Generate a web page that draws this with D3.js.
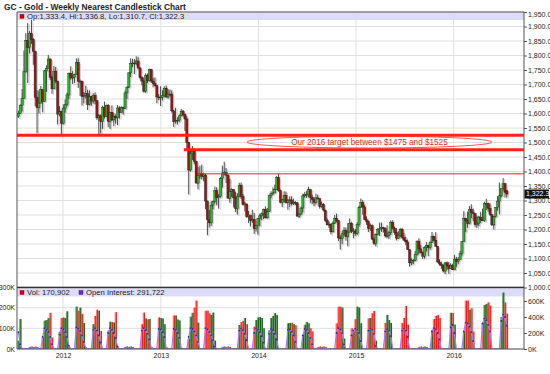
<!DOCTYPE html>
<html>
<head>
<meta charset="utf-8">
<script src="https://cdn.jsdelivr.net/npm/d3@7"></script>
<style>
  body { margin: 0; background: #fff; }
  svg text { font-family: "Liberation Sans", Arial, sans-serif; }
</style>
</head>
<body>
<div id="chart"></div>
<script>
const title = 'GC - Gold - Weekly Nearest Candlestick Chart';
const firstWeek = new Date(2011, 6, 18);   // weekly bars, Monday of each week

// [open, high, low, close] per week
const gold2011 = [
  [1590,1610,1585,1601],[1601,1632,1598,1628],[1628,1684,1607,1651],[1651,1817,1650,1744],
  [1744,1877,1740,1852],[1852,1912,1705,1828],[1828,1884,1807,1876],[1876,1923,1840,1856],
  [1856,1860,1768,1814],[1814,1816,1625,1656],[1656,1680,1532,1620],[1620,1680,1600,1636],
  [1636,1695,1635,1683],[1683,1683,1604,1642],[1642,1750,1640,1747],[1747,1766,1675,1756],
  [1756,1802,1756,1788],[1788,1790,1715,1724],[1724,1731,1668,1685],[1685,1764,1685,1746],
  [1746,1761,1705,1712],[1712,1712,1562,1598],[1598,1625,1590,1606],[1606,1610,1523,1566]
];
const gold2012 = [
  [1566,1631,1562,1617],[1617,1648,1603,1631],[1631,1672,1625,1664],[1664,1741,1650,1739],
  [1739,1763,1716,1725],[1725,1746,1702,1725],[1725,1737,1705,1735],[1735,1790,1733,1776],
  [1776,1792,1688,1711],[1711,1717,1660,1711],[1711,1714,1627,1659],[1659,1674,1635,1662],
  [1662,1696,1652,1669],[1669,1682,1612,1631],[1631,1680,1628,1659],[1659,1661,1627,1643],
  [1643,1670,1634,1663],[1663,1673,1632,1645],[1645,1646,1578,1585],[1585,1598,1527,1592],
  [1592,1597,1532,1573],[1573,1627,1547,1622],[1622,1641,1583,1590],[1590,1630,1588,1628],
  [1628,1633,1553,1573],[1573,1606,1547,1604],[1604,1628,1574,1578],[1578,1602,1556,1590],
  [1590,1597,1565,1585],[1585,1629,1560,1619],[1619,1625,1583,1604],[1604,1625,1603,1621],
  [1621,1624,1596,1617],[1617,1679,1615,1671],[1671,1693,1650,1691],[1691,1742,1688,1740],
  [1740,1790,1726,1772],[1772,1789,1760,1774],[1774,1788,1736,1772],[1772,1797,1766,1781],
  [1781,1796,1752,1757],[1757,1760,1718,1724],[1724,1728,1697,1712],[1712,1724,1672,1677],
  [1677,1739,1672,1731],[1731,1738,1705,1714],[1714,1755,1710,1752],[1752,1754,1705,1712],
  [1712,1723,1690,1704],[1704,1725,1694,1696],[1696,1698,1635,1657],[1657,1667,1646,1656],
  [1656,1694,1626,1656]
];
const gold2013 = [
  [1656,1680,1645,1662],[1662,1694,1656,1687],[1687,1697,1654,1657],[1657,1684,1651,1667],
  [1667,1683,1660,1667],[1667,1680,1603,1609],[1609,1613,1554,1572],[1572,1620,1565,1576],
  [1576,1587,1562,1577],[1577,1597,1570,1592],[1592,1616,1590,1608],[1608,1612,1590,1597],
  [1597,1600,1540,1581],[1581,1590,1476,1501],[1501,1501,1321,1405],[1405,1476,1400,1462],
  [1462,1488,1440,1470],[1470,1480,1425,1435],[1435,1437,1359,1360],[1360,1416,1338,1386],
  [1386,1420,1375,1393],[1393,1424,1373,1383],[1383,1396,1366,1388],[1388,1393,1270,1298],
  [1298,1300,1180,1234],[1234,1267,1207,1223],[1223,1297,1212,1284],[1284,1300,1270,1297],
  [1297,1348,1290,1334],[1334,1346,1283,1310],[1310,1322,1272,1314],[1314,1380,1310,1376],
  [1376,1420,1345,1395],[1395,1434,1387,1396],[1396,1412,1360,1387],[1387,1390,1306,1308],
  [1308,1375,1292,1332],[1332,1342,1312,1338],[1338,1339,1276,1309],[1309,1330,1260,1272],
  [1272,1325,1251,1315],[1315,1361,1311,1352],[1352,1362,1304,1314],[1314,1323,1282,1287],
  [1287,1295,1262,1288],[1288,1289,1240,1244],[1244,1264,1222,1250],[1250,1250,1210,1231],
  [1231,1268,1223,1235],[1235,1257,1185,1203],[1203,1216,1193,1213],[1213,1240,1182,1238]
];
const gold2014 = [
  [1238,1255,1211,1247],[1247,1259,1232,1254],[1254,1272,1236,1270],[1270,1280,1239,1240],
  [1240,1274,1238,1262],[1262,1320,1260,1318],[1318,1332,1308,1324],[1324,1345,1318,1326],
  [1326,1355,1326,1339],[1339,1385,1337,1379],[1379,1392,1330,1334],[1334,1338,1290,1294],
  [1294,1305,1277,1302],[1302,1332,1293,1318],[1318,1331,1290,1293],[1293,1305,1268,1300],
  [1300,1315,1277,1302],[1302,1315,1283,1289],[1289,1306,1285,1293],[1293,1298,1284,1292],
  [1292,1294,1245,1246],[1246,1257,1240,1253],[1253,1279,1250,1274],[1274,1324,1259,1316],
  [1316,1330,1310,1320],[1320,1334,1309,1320],[1320,1348,1311,1337],[1337,1339,1291,1310],
  [1310,1320,1287,1303],[1303,1312,1280,1294],[1294,1324,1286,1309],[1309,1320,1303,1306],
  [1306,1307,1272,1280],[1280,1296,1275,1287],[1287,1291,1262,1267],[1267,1268,1226,1231],
  [1231,1238,1215,1216],[1216,1227,1205,1218],[1218,1220,1183,1192],[1192,1228,1190,1222],
  [1222,1250,1219,1239],[1239,1255,1224,1231],[1231,1233,1160,1171],[1171,1180,1131,1169],
  [1169,1196,1150,1185],[1185,1208,1179,1197],[1197,1207,1161,1175],[1175,1222,1142,1191],
  [1191,1238,1190,1222],[1222,1225,1188,1195],[1195,1205,1170,1195],[1195,1202,1178,1186]
];
const gold2015 = [
  [1186,1225,1180,1217],[1217,1282,1210,1277],[1277,1307,1275,1293],[1293,1301,1251,1278],
  [1278,1285,1232,1234],[1234,1245,1216,1227],[1227,1232,1191,1204],[1204,1220,1195,1213],
  [1213,1218,1163,1167],[1167,1173,1147,1152],[1152,1187,1142,1183],[1183,1205,1180,1199],
  [1199,1224,1178,1202],[1202,1224,1192,1207],[1207,1209,1190,1203],[1203,1208,1172,1178],
  [1178,1215,1170,1179],[1179,1194,1168,1189],[1189,1232,1181,1225],[1225,1232,1200,1205],
  [1205,1210,1181,1190],[1190,1205,1162,1170],[1170,1194,1168,1180],[1180,1205,1174,1201],
  [1201,1205,1168,1173],[1173,1188,1162,1163],[1163,1175,1146,1157],[1157,1165,1130,1131],
  [1131,1131,1072,1085],[1085,1101,1077,1094],[1094,1098,1080,1094],[1094,1126,1090,1113],
  [1113,1162,1110,1160],[1160,1170,1115,1133],[1133,1147,1118,1121],[1121,1124,1098,1108],
  [1108,1142,1100,1138],[1138,1157,1124,1145],[1145,1147,1108,1137],[1137,1159,1130,1156],
  [1156,1191,1154,1177],[1177,1178,1160,1163],[1163,1191,1140,1142],[1142,1142,1085,1088],
  [1088,1097,1075,1081],[1081,1089,1064,1076],[1076,1080,1052,1057],[1057,1088,1046,1085],
  [1085,1090,1061,1075],[1075,1088,1047,1066],[1066,1083,1065,1075],[1075,1082,1061,1061]
];
const gold2016 = [
  [1061,1113,1061,1098],[1098,1105,1071,1090],[1090,1105,1080,1097],[1097,1127,1096,1117],
  [1117,1160,1110,1158],[1158,1263,1157,1239],[1239,1240,1191,1231],[1231,1262,1206,1221],
  [1221,1281,1218,1270],[1270,1287,1239,1259],[1259,1272,1228,1255],[1255,1256,1208,1217],
  [1217,1245,1206,1222],[1222,1247,1211,1243],[1243,1261,1223,1235],[1235,1272,1230,1230],
  [1230,1296,1227,1290],[1290,1306,1267,1290],[1290,1292,1261,1273],[1273,1290,1247,1252],
  [1252,1253,1212,1216],[1216,1247,1200,1244],[1244,1277,1241,1276],[1276,1315,1265,1298],
  [1298,1362,1252,1316],[1316,1342,1311,1341],[1341,1377,1334,1358],[1358,1360,1310,1328],
  [1333.4,1336.8,1310.7,1322.3]
];

// weekly volume, thousands (left scale)
const volume = [
  40,145,3,3,3,3,10,12,10,12,10,3,3,55,137,140,150,175,55,3,3,3,84,150,
  152,150,182,10,3,3,3,205,185,200,170,125,8,3,3,3,120,160,190,185,87,3,3,3,89,132,130,128,178,10,3,3,3,10,12,10,12,10,3,3,3,3,120,176,148,143,145,10,3,3,3,153,150,
  148,120,8,3,3,3,162,162,143,138,5,3,3,3,50,156,175,200,234,127,3,3,3,185,185,172,165,176,40,3,3,3,10,12,10,12,10,3,3,3,3,116,130,136,150,120,3,3,3,108,140,152,
  155,150,100,3,3,90,150,160,174,165,3,3,3,3,3,124,126,127,120,115,3,3,3,68,117,131,124,100,85,3,3,10,12,10,12,10,3,3,3,3,3,124,205,205,200,50,3,3,3,100,84,144,
  205,200,124,3,3,3,148,150,173,184,40,3,3,3,3,126,165,140,126,3,3,3,3,3,126,150,208,118,3,3,3,3,3,10,12,10,12,10,3,3,92,145,160,165,150,3,3,3,3,3,175,174,
  118,3,3,3,3,84,234,234,189,197,84,3,3,3,3,125,213,218,225,210,3,3,3,3,3,155,273,225,171
];
// weekly open interest, thousands (right scale)
const openInterest = [
  210,60,5,5,5,5,8,8,8,8,8,5,5,150,260,240,210,150,60,5,5,5,180,260,
  245,210,150,40,5,5,5,270,255,225,170,90,10,5,5,5,240,260,230,170,80,5,5,5,200,260,240,200,140,30,5,5,5,10,10,10,10,10,5,5,5,5,230,260,235,190,120,20,5,5,5,250,245,
  210,150,20,5,5,5,250,240,200,140,15,5,5,5,150,260,250,220,170,90,5,5,5,260,245,215,170,110,30,5,5,5,10,10,10,10,10,5,5,5,5,230,255,235,190,110,5,5,5,200,255,240,
  210,160,80,5,5,190,250,235,190,120,5,5,5,5,5,240,245,215,170,90,5,5,5,170,250,240,200,140,60,5,5,10,10,10,10,10,5,5,5,5,5,200,260,245,200,60,5,5,5,170,230,255,
  240,200,100,5,5,5,230,255,240,190,40,5,5,5,5,220,250,230,160,5,5,5,5,5,230,255,230,150,5,5,5,5,5,10,10,10,10,10,5,5,220,260,245,200,120,5,5,5,5,5,270,300,
  200,5,5,5,5,220,330,320,280,210,100,5,5,5,5,320,380,360,300,220,5,5,5,5,5,350,430,400,292
];

const years = ['2012', '2013', '2014', '2015', '2016'];
const priceTicks = d3.range(1000, 1951, 50);
const volTicks = [0, 100, 200, 300];
const oiTicks = [0, 200, 400, 600];

const legendTop = 'Op:1,333.4, Hi:1,336.8, Lo:1,310.7, Cl:1,322.3';
const legendVol = ['Vol: 170,902', 'Open Interest: 291,722'];
const lastPrice = 1322.3;

// target zone annotation
const targetHi = { price: 1525, from: '2011-07-13' };
const targetLo = { price: 1475, from: '2013-03-28' };
const resistance = { price: 1392, from: '2013-05-20' };
const targetNote = { text: 'Our 2016 target between $1475 and $1525', from: '2013-11-19', to: '2016-05-23', lo: 1481, hi: 1522 };

const bars = [...gold2011, ...gold2012, ...gold2013, ...gold2014, ...gold2015, ...gold2016]
  .map((d, i) => ({ date: d3.timeDay.offset(firstWeek, 7 * i), o: d[0], h: d[1], l: d[2], c: d[3],
    v: volume[i], oi: openInterest[i] }));

const W = 550, H = 374, L = 17, R = 524;
const x = d3.scaleTime().domain([new Date(2011, 6, 13), new Date(2016, 8, 20)]).range([L, R]);
const yP = d3.scaleLinear().domain([1000, 1950]).range([287.5, 12]);
const yV = d3.scaleLinear().domain([0, 300]).range([349, 287]);
const yO = d3.scaleLinear().domain([0, 600]).range([349, 301]);
const pd = s => d3.timeParse('%Y-%m-%d')(s);
const up = d => d.c >= d.o;

const svg = d3.select('#chart').append('svg').attr('width', W).attr('height', H)
  .style('display', 'block').attr('font-size', 7);
svg.append('rect').attr('width', W).attr('height', H).attr('fill', '#fff');
const defs = svg.append('defs');
defs.append('clipPath').attr('id', 'clipP').append('rect').attr('x', L).attr('y', 12).attr('width', R - L).attr('height', 275);
defs.append('clipPath').attr('id', 'clipV').append('rect').attr('x', L).attr('y', 288).attr('width', R - L).attr('height', 61);

svg.append('text').attr('x', 4).attr('y', 9.8).attr('font-weight', 'bold').attr('font-size', 8.4)
  .attr('fill', '#222').text(title);

// grid
const grid = svg.append('g').attr('stroke', '#e0e0e0').attr('stroke-width', 1);
priceTicks.forEach(t => grid.append('line').attr('x1', L).attr('x2', R).attr('y1', yP(t)).attr('y2', yP(t)));
volTicks.forEach(t => grid.append('line').attr('x1', L).attr('x2', R).attr('y1', yV(t)).attr('y2', yV(t)));
years.forEach(yr => {
  const xx = x(new Date(+yr, 0, 1));
  grid.append('line').attr('x1', xx).attr('x2', xx).attr('y1', 12).attr('y2', 349);
});

// legend band (price)
svg.append('rect').attr('x', L).attr('y', 12.5).attr('width', R - L).attr('height', 7.5).attr('fill', '#dcdcfa');
svg.append('rect').attr('x', 20).attr('y', 14.3).attr('width', 4).attr('height', 4).attr('fill', '#e00000').attr('stroke', '#600').attr('stroke-width', .4);
svg.append('text').attr('x', 27).attr('y', 18.8).attr('font-size', 7.7).attr('fill', '#222').text(legendTop);

// candles
const cg = svg.append('g').attr('clip-path', 'url(#clipP)');
const sh = cg.append('g').attr('transform', 'translate(1.5,1.2)');
sh.selectAll('line').data(bars).join('line')
  .attr('x1', d => x(d.date)).attr('x2', d => x(d.date)).attr('y1', d => yP(d.h)).attr('y2', d => yP(d.l))
  .attr('stroke', '#c6c6c6').attr('stroke-width', .9);
sh.selectAll('rect').data(bars).join('rect')
  .attr('x', d => x(d.date) - 1.1).attr('width', 2.2)
  .attr('y', d => yP(Math.max(d.o, d.c))).attr('height', d => Math.max(.8, Math.abs(yP(d.o) - yP(d.c))))
  .attr('fill', '#cdcdcd');
cg.selectAll('line.wk').data(bars).join('line').attr('class', 'wk')
  .attr('x1', d => x(d.date)).attr('x2', d => x(d.date)).attr('y1', d => yP(d.h)).attr('y2', d => yP(d.l))
  .attr('stroke', '#1c1c1c').attr('stroke-width', .8);
cg.selectAll('rect.bd').data(bars).join('rect').attr('class', 'bd')
  .attr('x', d => x(d.date) - 1.1).attr('width', 2.2)
  .attr('y', d => yP(Math.max(d.o, d.c))).attr('height', d => Math.max(.8, Math.abs(yP(d.o) - yP(d.c))))
  .attr('fill', d => up(d) ? '#2db82d' : '#a31212').attr('stroke', '#1c1c1c').attr('stroke-width', .4);

// target lines + note
const ann = svg.append('g').attr('clip-path', 'url(#clipP)');
[[targetHi, 3], [targetLo, 3], [resistance, 1]].forEach(([t, w]) => ann.append('line')
  .attr('x1', x(pd(t.from))).attr('x2', R).attr('y1', yP(t.price)).attr('y2', yP(t.price))
  .attr('stroke', '#ff2215').attr('stroke-width', w));
const ex0 = x(pd(targetNote.from)), ex1 = x(pd(targetNote.to));
const ey0 = yP(targetNote.hi), ey1 = yP(targetNote.lo);
ann.append('ellipse').attr('cx', (ex0 + ex1) / 2).attr('cy', (ey0 + ey1) / 2)
  .attr('rx', (ex1 - ex0) / 2).attr('ry', (ey1 - ey0) / 2)
  .attr('fill', 'none').attr('stroke', '#ff2a20').attr('stroke-width', .8);
ann.append('text').attr('x', (ex0 + ex1) / 2).attr('y', (ey0 + ey1) / 2).attr('dy', '0.35em')
  .attr('text-anchor', 'middle').attr('font-size', 8.2).attr('fill', '#ea2b20').text(targetNote.text);

// volume panel
svg.append('rect').attr('x', L).attr('y', 288.5).attr('width', R - L).attr('height', 8).attr('fill', '#dcdcfa');
svg.append('rect').attr('x', 20).attr('y', 290.5).attr('width', 4).attr('height', 4).attr('fill', '#e00000').attr('stroke', '#600').attr('stroke-width', .4);
svg.append('text').attr('x', 27).attr('y', 295.2).attr('font-size', 7.7).attr('fill', '#222').text(legendVol[0]);
svg.append('rect').attr('x', 79).attr('y', 290.5).attr('width', 4).attr('height', 4).attr('fill', '#7a22d8').attr('stroke', '#301060').attr('stroke-width', .4);
svg.append('text').attr('x', 86).attr('y', 295.2).attr('font-size', 7.7).attr('fill', '#222').text(legendVol[1]);

const vg = svg.append('g').attr('clip-path', 'url(#clipV)');
vg.selectAll('rect').data(bars).join('rect')
  .attr('x', d => x(d.date) - 1).attr('width', 2.2)
  .attr('y', d => yV(d.v)).attr('height', d => yV(0) - yV(d.v))
  .attr('fill', d => up(d) ? '#6e9e6e' : '#ff7d7d');
vg.selectAll('line').data(bars).join('line')
  .attr('x1', d => x(d.date) + .7).attr('x2', d => x(d.date) + .7)
  .attr('y1', d => yV(d.v)).attr('y2', yV(0))
  .attr('stroke', d => up(d) ? '#0b5c0b' : '#ff0000').attr('stroke-width', .9);
vg.append('path').datum(bars)
  .attr('d', d3.line().x(d => x(d.date)).y(d => yO(d.oi)))
  .attr('fill', 'none').attr('stroke', '#a77cf8').attr('stroke-width', 1.2);
vg.selectAll('circle').data(bars.filter(d => d.oi > 20)).join('circle')
  .attr('cx', d => x(d.date)).attr('cy', d => yO(d.oi)).attr('r', .9).attr('fill', '#3a2688');

// frame
const fr = svg.append('g').attr('stroke', '#555');
fr.append('line').attr('x1', L).attr('x2', R).attr('y1', 12).attr('y2', 12);
fr.append('line').attr('x1', L).attr('x2', L).attr('y1', 12).attr('y2', 349);
fr.append('line').attr('x1', R).attr('x2', R).attr('y1', 12).attr('y2', 349);
fr.append('line').attr('x1', L).attr('x2', R).attr('y1', 349).attr('y2', 349);
fr.append('line').attr('x1', L).attr('x2', R).attr('y1', 287.5).attr('y2', 287.5).attr('stroke', '#333').attr('stroke-width', 1.6);

// axes
function styleAxis(g) {
  g.select('.domain').remove();
  g.selectAll('line').attr('stroke', '#555');
  g.selectAll('text').attr('font-size', 7).attr('fill', '#222').attr('font-family', '"Liberation Sans", Arial, sans-serif');
}
const ap = svg.append('g').attr('transform', `translate(${R},0)`)
  .call(d3.axisRight(yP).tickValues(priceTicks).tickSize(3).tickPadding(1).tickFormat(d3.format(',.1f')))
  .call(styleAxis);
ap.selectAll('.tick').filter(d => d === 1950).select('text').attr('y', 2.5);

svg.append('g').attr('transform', `translate(${R},0)`)
  .call(d3.axisRight(yO).tickValues(oiTicks).tickSize(3).tickPadding(1).tickFormat(d => d + 'K'))
  .call(styleAxis);
svg.append('g').attr('transform', `translate(${L},0)`)
  .call(d3.axisLeft(yV).tickValues(volTicks).tickSize(0).tickPadding(2).tickFormat(d => d + 'K'))
  .call(styleAxis);
svg.append('g').attr('transform', `translate(0,349)`)
  .call(d3.axisBottom(x).tickValues(years.map(y => new Date(+y, 0, 1))).tickSize(0).tickPadding(4).tickFormat(d3.timeFormat('%Y')))
  .call(styleAxis);

// last price tag
const ly = yP(lastPrice);
svg.append('rect').attr('x', R + .5).attr('y', ly - 4.5).attr('width', 24.5).attr('height', 9).attr('fill', '#111');
svg.append('text').attr('x', R + 2).attr('y', ly).attr('dy', '0.35em').attr('fill', '#fff').attr('font-size', 7)
  .text(d3.format(',.1f')(lastPrice));
</script>
</body>
</html>
